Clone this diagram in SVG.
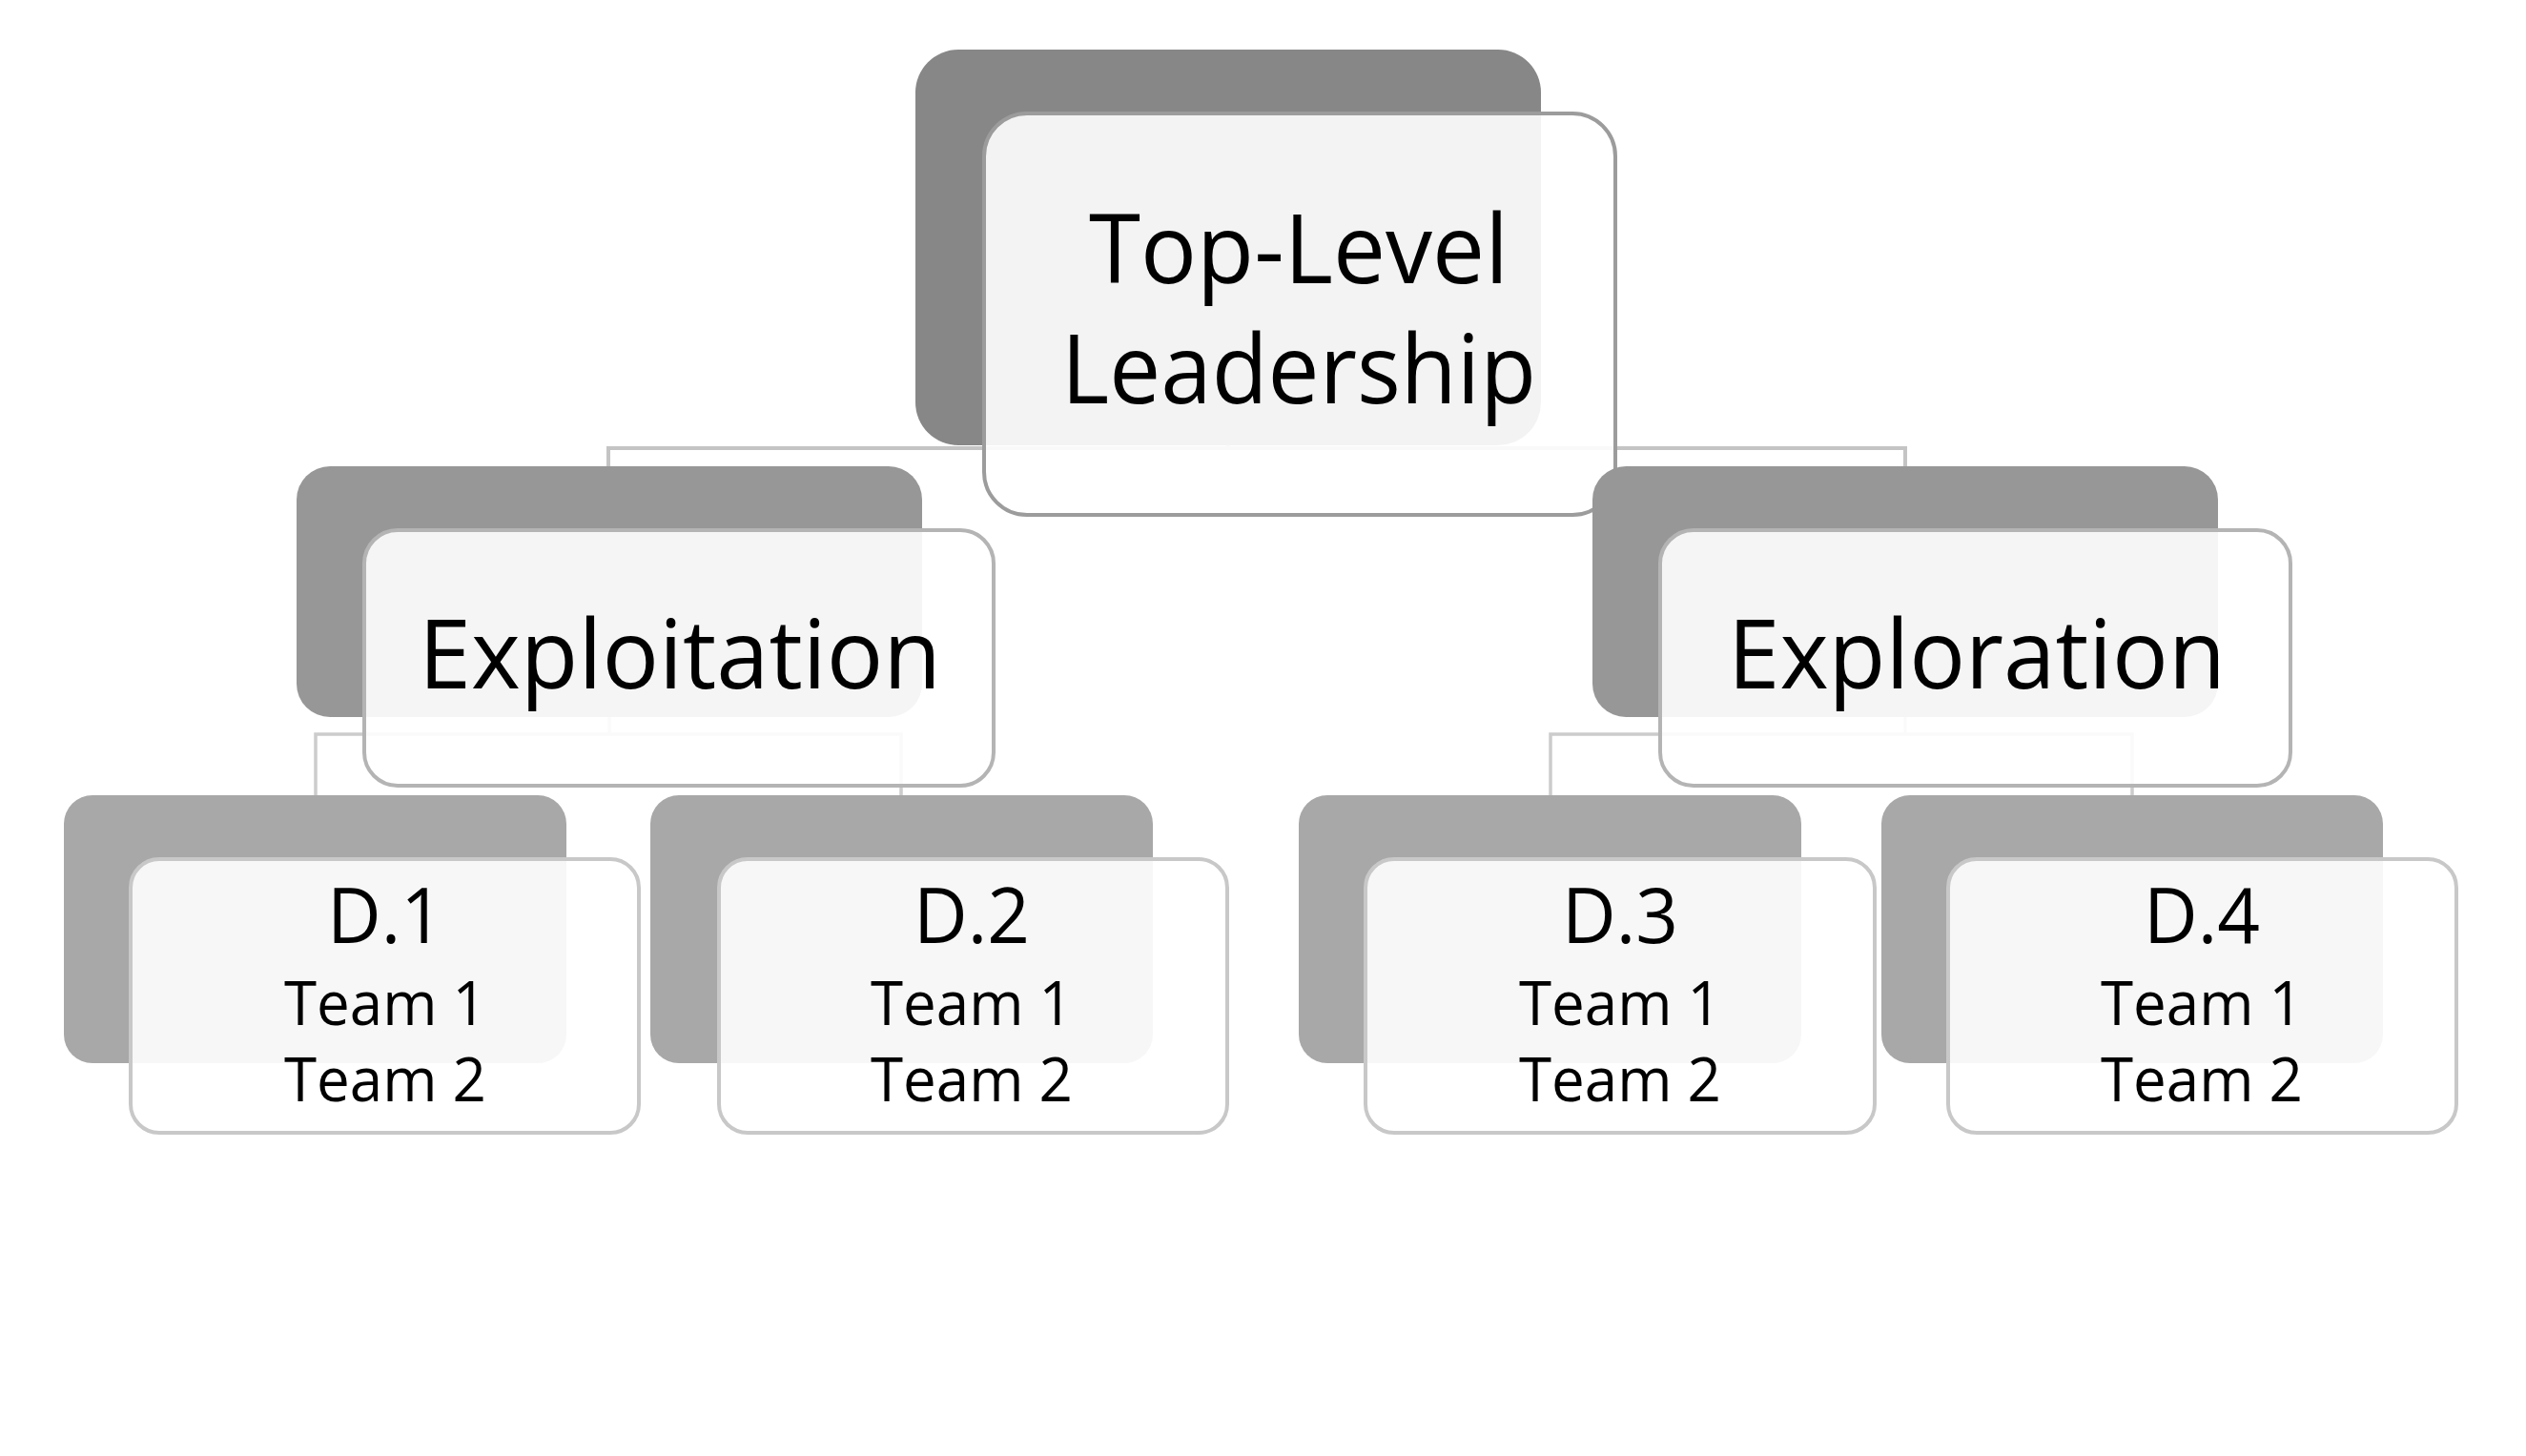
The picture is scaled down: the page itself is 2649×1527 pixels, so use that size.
<svg xmlns="http://www.w3.org/2000/svg" width="2649" height="1527" viewBox="0 0 2649 1527">
<style>
.bg{fill:#ffffff}
.dk0{fill:#878787}
.dk1{fill:#979797}
.dk2{fill:#a8a8a8}
.lt{fill:#ffffff;fill-opacity:0.9;stroke-width:4}
.lt0{stroke:#9c9c9c}
.lt1{stroke:#b4b4b4}
.lt2{stroke:#c8c8c8}
.c0{fill:none;stroke:#c4c4c4;stroke-width:4}
.c1{fill:none;stroke:#cccccc;stroke-width:3.5}
text{font-family:"Open Sans","Noto Sans","DejaVu Sans",sans-serif;fill:#000000;text-anchor:middle}
.t0{font-size:100px}
.t2a{font-size:80px}
.t2b{font-size:64px}
</style>
<rect class="bg" x="0" y="0" width="2649" height="1527"/>
<g id="connectors">
<polyline class="c0" points="638,489 638,470 1288,470 1288,467"/>
<polyline class="c0" points="1288,470 1998,470 1998,489"/>
<polyline class="c1" points="331,834 331,770 945,770 945,834"/>
<polyline class="c1" points="639,752 639,770"/>
<polyline class="c1" points="1626,834 1626,770 2236,770 2236,834"/>
<polyline class="c1" points="1998,752 1998,770"/>
</g>
<g id="node-top">
<rect class="dk0" x="960" y="52" width="656" height="415" rx="45" ry="45"/>
<rect class="lt lt0" x="1032" y="119" width="662" height="421" rx="45" ry="45"/>
<text class="t0" x="1362" y="297" textLength="440" lengthAdjust="spacingAndGlyphs">Top-Level</text>
<text class="t0" x="1362" y="423" textLength="498" lengthAdjust="spacingAndGlyphs">Leadership</text>
</g>
<g id="node-exploitation">
<rect class="dk1" x="311" y="489" width="656" height="263" rx="35" ry="35"/>
<rect class="lt lt1" x="382" y="556" width="660" height="268" rx="35" ry="35"/>
<text class="t0" x="713" y="722" textLength="548" lengthAdjust="spacingAndGlyphs">Exploitation</text>
</g>
<g id="node-exploration">
<rect class="dk1" x="1670" y="489" width="656" height="263" rx="35" ry="35"/>
<rect class="lt lt1" x="1741" y="556" width="661" height="268" rx="35" ry="35"/>
<text class="t0" x="2073" y="722" textLength="522" lengthAdjust="spacingAndGlyphs">Exploration</text>
</g>
<g id="node-d1">
<rect class="dk2" x="67" y="834" width="527" height="281" rx="30" ry="30"/>
<rect class="lt lt2" x="137" y="901" width="533" height="287" rx="30" ry="30"/>
<text class="t2a" x="404" y="989" textLength="122" lengthAdjust="spacingAndGlyphs">D.1</text>
<text class="t2b" x="404" y="1075" textLength="212" lengthAdjust="spacingAndGlyphs">Team 1</text>
<text class="t2b" x="404" y="1155" textLength="212" lengthAdjust="spacingAndGlyphs">Team 2</text>
</g>
<g id="node-d2">
<rect class="dk2" x="682" y="834" width="527" height="281" rx="30" ry="30"/>
<rect class="lt lt2" x="754" y="901" width="533" height="287" rx="30" ry="30"/>
<text class="t2a" x="1019" y="989" textLength="122" lengthAdjust="spacingAndGlyphs">D.2</text>
<text class="t2b" x="1019" y="1075" textLength="212" lengthAdjust="spacingAndGlyphs">Team 1</text>
<text class="t2b" x="1019" y="1155" textLength="212" lengthAdjust="spacingAndGlyphs">Team 2</text>
</g>
<g id="node-d3">
<rect class="dk2" x="1362" y="834" width="527" height="281" rx="30" ry="30"/>
<rect class="lt lt2" x="1432" y="901" width="534" height="287" rx="30" ry="30"/>
<text class="t2a" x="1699" y="989" textLength="122" lengthAdjust="spacingAndGlyphs">D.3</text>
<text class="t2b" x="1699" y="1075" textLength="212" lengthAdjust="spacingAndGlyphs">Team 1</text>
<text class="t2b" x="1699" y="1155" textLength="212" lengthAdjust="spacingAndGlyphs">Team 2</text>
</g>
<g id="node-d4">
<rect class="dk2" x="1973" y="834" width="526" height="281" rx="30" ry="30"/>
<rect class="lt lt2" x="2043" y="901" width="533" height="287" rx="30" ry="30"/>
<text class="t2a" x="2309" y="989" textLength="122" lengthAdjust="spacingAndGlyphs">D.4</text>
<text class="t2b" x="2309" y="1075" textLength="212" lengthAdjust="spacingAndGlyphs">Team 1</text>
<text class="t2b" x="2309" y="1155" textLength="212" lengthAdjust="spacingAndGlyphs">Team 2</text>
</g>
</svg>
